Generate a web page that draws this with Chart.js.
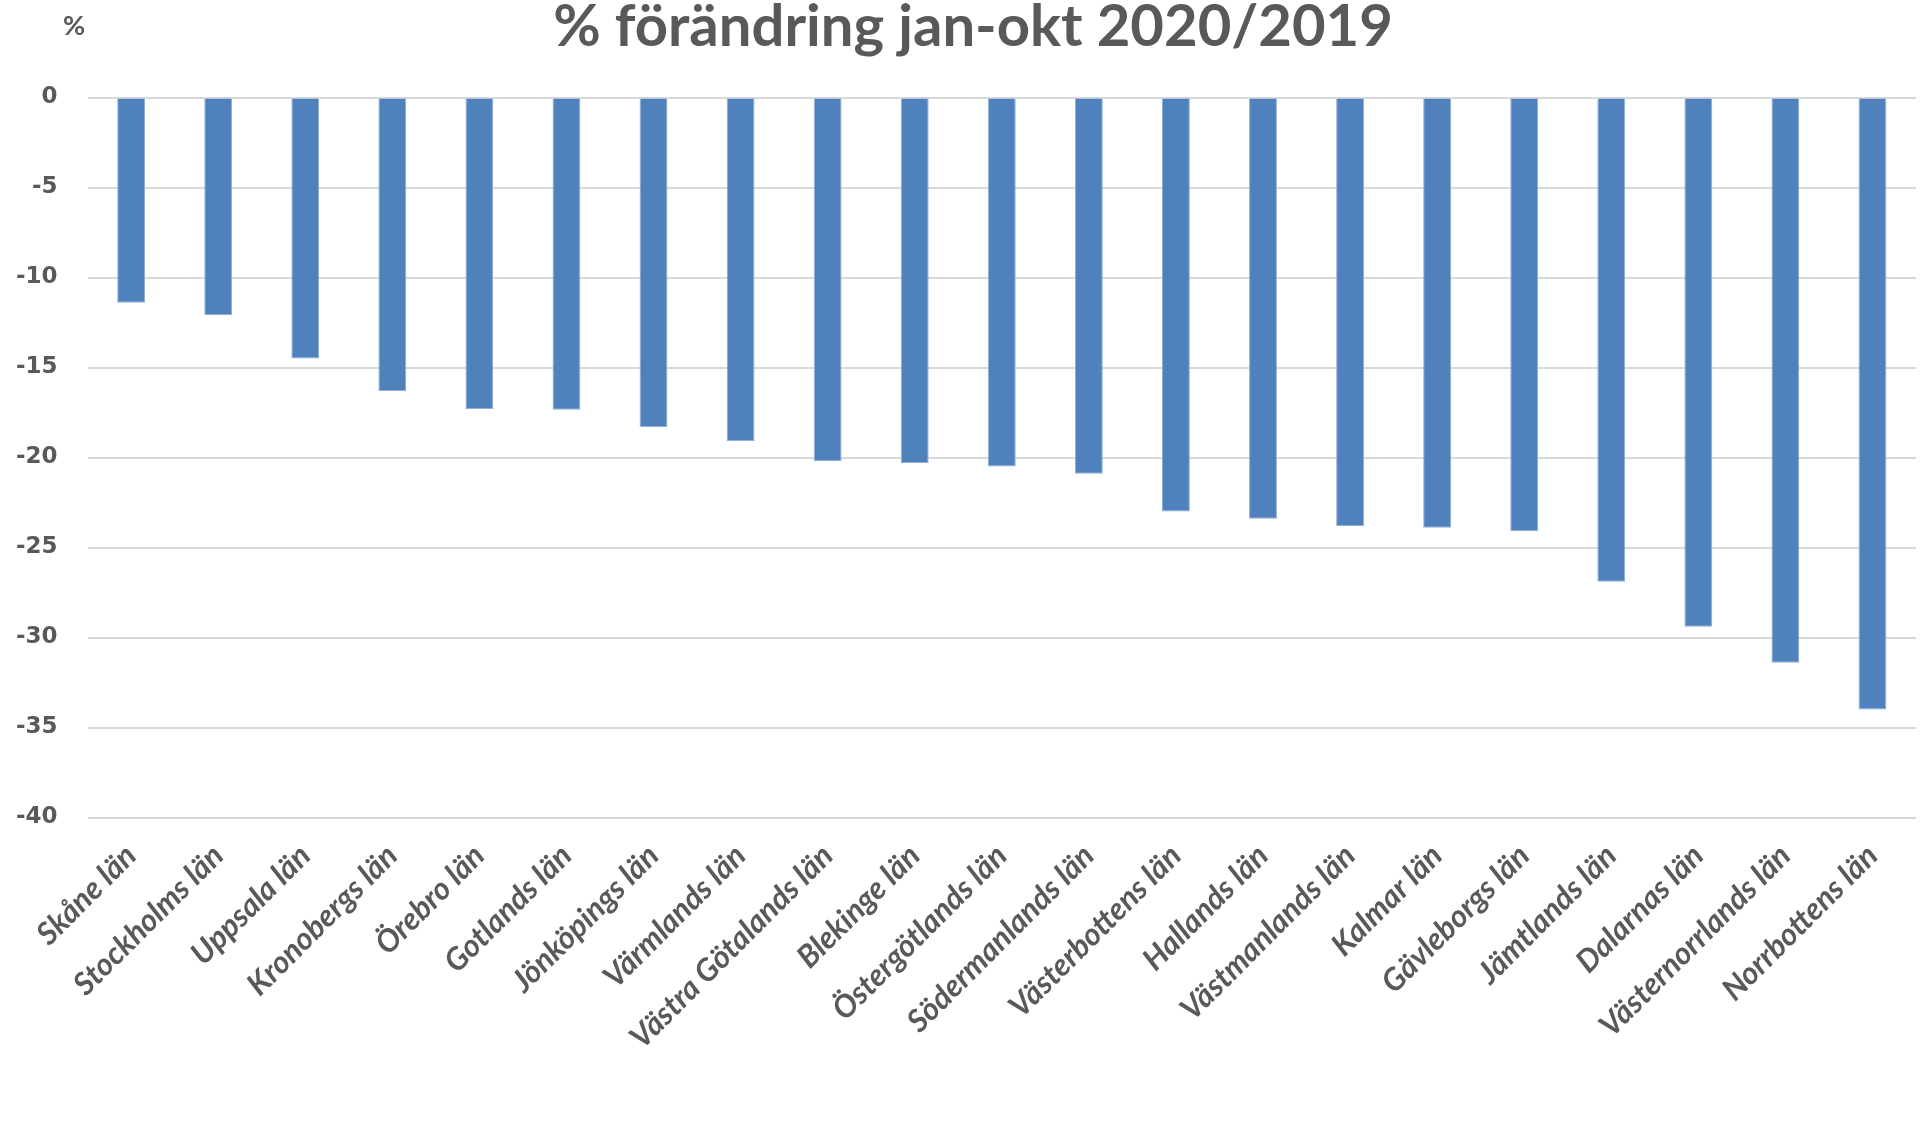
<!DOCTYPE html>
<html>
<head>
<meta charset="utf-8">
<script src="https://cdn.jsdelivr.net/npm/chart.js@4.4.1/dist/chart.umd.min.js"></script>
<style>
  html, body { margin: 0; padding: 0; background: #fff; }
  #wrap { width: 1925px; height: 1134px; position: relative; }
</style>
</head>
<body>
<div id="wrap"><canvas id="chart"></canvas></div>
<script>
const barColor = '#4F81BD';
const textColor = '#595959';
const gridColor = '#D9D9D9';

const lan = [
  'Skåne län', 'Stockholms län', 'Uppsala län', 'Kronobergs län', 'Örebro län',
  'Gotlands län', 'Jönköpings län', 'Värmlands län', 'Västra Götalands län',
  'Blekinge län', 'Östergötlands län', 'Södermanlands län', 'Västerbottens län',
  'Hallands län', 'Västmanlands län', 'Kalmar län', 'Gävleborgs län',
  'Jämtlands län', 'Dalarnas län', 'Västernorrlands län', 'Norrbottens län'
];

const forandring = [
  -11.4, -12.1, -14.5, -16.3, -17.3,
  -17.35, -18.3, -19.1, -20.2,
  -20.3, -20.5, -20.9, -23.0,
  -23.4, -23.8, -23.9, -24.1,
  -26.9, -29.4, -31.4, -34.0
];

const yMin = -40;
const yMax = 0;
const yStep = 5;

const titleText = '% förändring jan-okt 2020/2019';
const unitText = '%';

// title and unit label drawn on top of the canvas
const headerPlugin = {
  id: 'header',
  afterDraw(chart) {
    const ctx = chart.ctx;
    ctx.save();
    ctx.fillStyle = textColor;
    ctx.textBaseline = 'alphabetic';
    ctx.textAlign = 'center';
    ctx.font = 'bold 58px Lato';
    ctx.fillText(titleText, 973, 46);
    ctx.font = 'bold 27px Lato';
    ctx.fillText(unitText, 74, 35);
    ctx.restore();
  }
};

function buildChart() {
  const canvas = document.getElementById('chart');

  const data = {
    labels: lan,
    datasets: [{
      data: forandring,
      backgroundColor: barColor,
      borderColor: '#8FADD6',
      borderWidth: 1,
      barPercentage: 0.32,
      categoryPercentage: 1.0,
    }]
  };

  const options = {
    responsive: true,
    maintainAspectRatio: false,
    animation: false,
    layout: { padding: { top: 97.5, right: 9, left: 0, bottom: 0 } },
    plugins: {
      legend: { display: false },
      title: { display: false },
      tooltip: { enabled: false },
    },
    scales: {
      x: {
        grid: { display: false, drawTicks: false },
        border: { display: false },
        afterFit(scale) { scale.height = 316.5; },
        ticks: {
          autoSkip: false,
          minRotation: 45,
          maxRotation: 45,
          padding: 20,
          color: textColor,
          font: { family: 'Lato', size: 31, weight: 'bold', style: 'italic' },
        }
      },
      y: {
        min: yMin,
        max: yMax,
        afterFit(scale) { scale.width = 87.6; },
        grid: { color: gridColor, lineWidth: 2, drawTicks: false },
        border: { display: false },
        ticks: {
          stepSize: yStep,
          padding: 30,
          color: textColor,
          font: { family: 'DejaVu Sans', size: 23, weight: 'bold' },
        }
      }
    }
  };

  new Chart(canvas, {
    type: 'bar',
    data: data,
    options: options,
    plugins: [headerPlugin]
  });
}

buildChart();
</script>
</body>
</html>
